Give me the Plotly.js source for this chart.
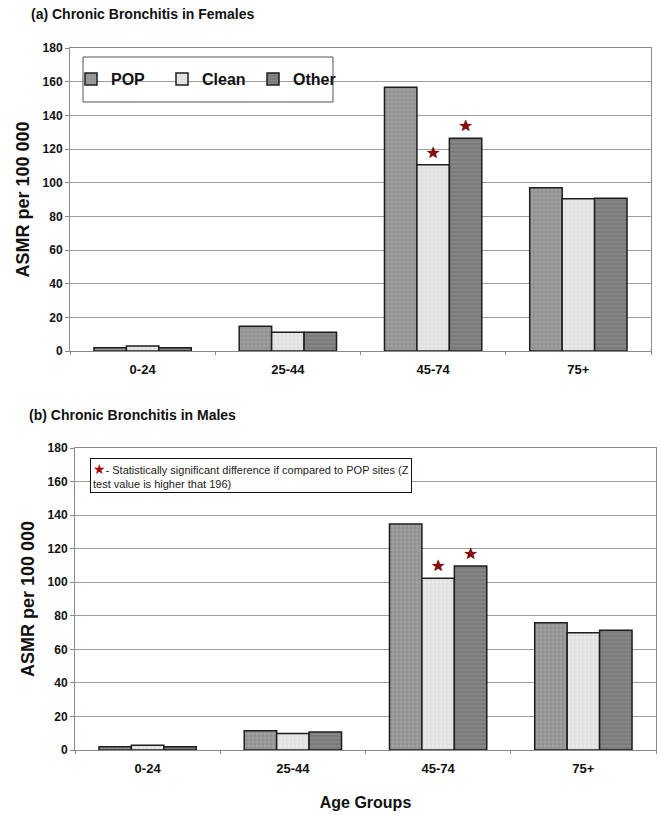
<!DOCTYPE html>
<html>
<head>
<meta charset="utf-8">
<script src="https://cdn.plot.ly/plotly-3.0.1.min.js"></script>
<style>html,body{margin:0;padding:0;background:#fff;}#chart{width:661px;height:815px;}</style>
</head>
<body>
<div id="chart"></div>
<script>
// ---- data ----
const categories = ['0-24', '25-44', '45-74', '75+'];
const seriesNames = ['POP', 'Clean', 'Other'];
const femalesPOP = [2, 14.7, 156.7, 97.0];
const femalesClean = [3, 11.2, 110.6, 90.4];
const femalesOther = [2, 11.2, 126.4, 90.8];
const malesPOP = [2, 11.5, 134.7, 75.9];
const malesClean = [2.8, 9.9, 102.3, 69.9];
const malesOther = [2, 10.7, 109.7, 71.3];
// significance marks (star) vs POP sites
const femalesCleanSig = [false, false, true, false];
const femalesOtherSig = [false, false, true, false];
const malesCleanSig = [false, false, true, false];
const malesOtherSig = [false, false, true, false];
const titleA = '(a) Chronic Bronchitis in Females';
const titleB = '(b) Chronic Bronchitis in Males';
const yTitle = 'ASMR per 100 000';
const xTitle = 'Age Groups';
const noteText = '- Statistically significant difference if compared to POP sites (Z<br>test value is higher that 196)';

// ---- styles ----
const STAR = '\u2605';
const W = 661, H = 815;
const styles = {
  POP:   {color: '#8f8f8f', pattern: {shape: '+', fgcolor: '#b3b3b3', bgcolor: '#8f8f8f', size: 4, solidity: 0.25}},
  Clean: {color: '#e2e2e2', pattern: {shape: '+', fgcolor: '#f6f6f6', bgcolor: '#dedede', size: 4, solidity: 0.25}},
  Other: {color: '#7c7c7c', pattern: {shape: '-', fgcolor: '#8e8e8e', bgcolor: '#7a7a7a', size: 4, solidity: 0.3}}
};
function sigText(flags) { return flags.map(f => f ? STAR : ''); }
function barTrace(name, values, xa, ya, sig, showlegend) {
  const st = styles[name];
  const t = {
    type: 'bar', name: name, x: categories, y: values, xaxis: xa, yaxis: ya,
    legendgroup: name, showlegend: showlegend,
    marker: {color: st.color, pattern: st.pattern, line: {color: '#1e1e1e', width: 1.5}},
    hoverinfo: 'skip', cliponaxis: false
  };
  if (sig) {
    t.text = sigText(sig);
    t.textposition = 'outside';
    t.constraintext = 'none';
    t.outsidetextfont = {color: '#8b0a0a', size: 16, family: 'DejaVu Sans', shadow: '0px 0px 1px #000'};
  }
  return t;
}
const data = [
  barTrace('POP', femalesPOP, 'x', 'y', null, true),
  barTrace('Clean', femalesClean, 'x', 'y', femalesCleanSig, true),
  barTrace('Other', femalesOther, 'x', 'y', femalesOtherSig, true),
  barTrace('POP', malesPOP, 'x2', 'y2', null, false),
  barTrace('Clean', malesClean, 'x2', 'y2', malesCleanSig, false),
  barTrace('Other', malesOther, 'x2', 'y2', malesOtherSig, false)
];

const baseFont = {family: 'Liberation Sans, Arial, sans-serif', color: '#111'};
function xAxis(dom, anchor, withTitle) {
  const a = {
    domain: dom, anchor: anchor, type: 'category',
    showline: true, linecolor: '#8a8a8a', linewidth: 1, mirror: true,
    ticks: 'outside', tickson: 'boundaries', ticklen: 3, tickcolor: '#8a8a8a',
    ticklabelstandoff: 6,
    tickfont: Object.assign({}, baseFont, {size: 13, weight: 'bold'}), showgrid: false, automargin: false, fixedrange: true
  };
  if (withTitle) a.title = {text: xTitle, font: Object.assign({}, baseFont, {size: 16, weight: 'bold'}), standoff: 22};
  return a;
}
function yAxis(dom, anchor) {
  return {
    domain: dom, anchor: anchor, range: [0, 180], dtick: 20,
    showline: true, linecolor: '#8a8a8a', linewidth: 1, mirror: true,
    ticks: 'outside', ticklen: 4, tickcolor: '#8a8a8a',
    showgrid: true, gridcolor: '#9e9e9e', gridwidth: 1, zeroline: false,
    tickfont: Object.assign({}, baseFont, {size: 12, weight: 'bold'}), automargin: false, fixedrange: true,
    title: {text: yTitle, font: Object.assign({}, baseFont, {size: 18, weight: 'bold'}), standoff: 8}
  };
}
const layout = {
  width: W, height: H,
  margin: {l: 0, r: 0, t: 0, b: 0},
  paper_bgcolor: '#ffffff', plot_bgcolor: '#ffffff',
  font: baseFont,
  barmode: 'group', bargap: 0.33, bargroupgap: 0,
  xaxis: xAxis([70 / W, 651 / W], 'y', false),
  yaxis: yAxis([1 - 351 / H, 1 - 48 / H], 'x'),
  xaxis2: xAxis([75 / W, 656 / W], 'y2', true),
  yaxis2: yAxis([1 - 750 / H, 1 - 448 / H], 'x2'),
  showlegend: true,
  legend: {
    orientation: 'h', x: 71 / W, y: 1 - 79 / H, xanchor: 'left', yanchor: 'middle',
    bgcolor: 'rgba(0,0,0,0)', borderwidth: 0, itemwidth: 30, itemclick: false, itemdoubleclick: false,
    entrywidth: 46, entrywidthmode: 'pixels',
    font: Object.assign({}, baseFont, {size: 16, weight: 'bold'}), traceorder: 'normal'
  },
  shapes: [
    {type: 'rect', xref: 'paper', yref: 'paper', x0: 83 / W, x1: 333 / W, y0: 1 - 102 / H, y1: 1 - 57 / H,
     line: {color: '#555', width: 1}, fillcolor: 'rgba(255,255,255,0)', layer: 'above'}
  ],
  annotations: [
    {xref: 'paper', yref: 'paper', x: 29 / W, y: 1 - 14 / H, xanchor: 'left', yanchor: 'middle', showarrow: false,
     text: titleA, font: Object.assign({}, baseFont, {size: 14, weight: 'bold'})},
    {xref: 'paper', yref: 'paper', x: 27 / W, y: 1 - 415 / H, xanchor: 'left', yanchor: 'middle', showarrow: false,
     text: titleB, font: Object.assign({}, baseFont, {size: 14, weight: 'bold'})},
    {xref: 'paper', yref: 'paper', x: 90 / W, y: 1 - 458 / H, xanchor: 'left', yanchor: 'top', showarrow: false,
     align: 'left', bgcolor: '#ffffff', bordercolor: '#111', borderwidth: 1, borderpad: 2,
     text: '<span style="color:#b00000;font-family:DejaVu Sans;font-size:14px">' + STAR + '</span>' + noteText,
     font: {family: 'Liberation Sans Narrow, Arial Narrow, Arial, sans-serif', size: 11, color: '#222'}}
  ]
};
Plotly.newPlot('chart', data, layout, {displayModeBar: false, staticPlot: true});
</script>
</body>
</html>
